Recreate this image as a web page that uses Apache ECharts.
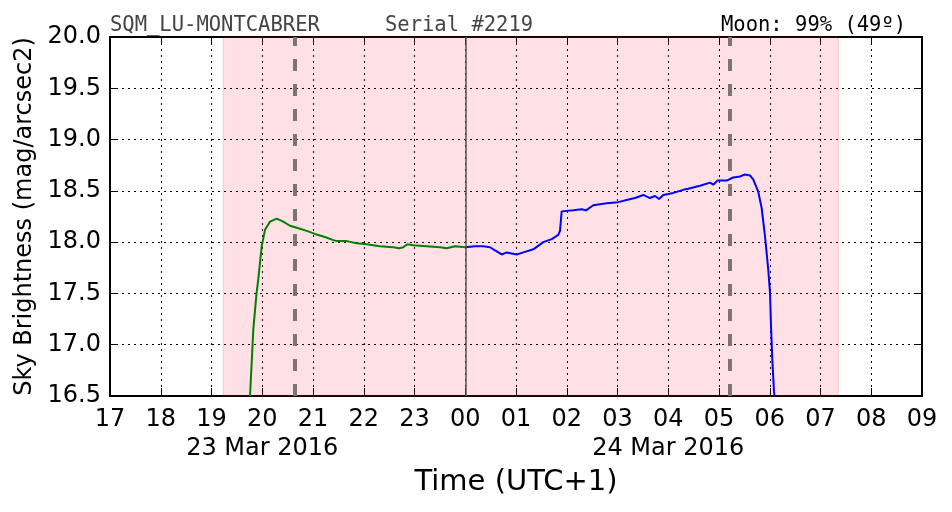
<!DOCTYPE html>
<html>
<head>
<meta charset="utf-8">
<script src="https://cdn.jsdelivr.net/npm/echarts@6/dist/echarts.min.js"></script>
<style>html,body{margin:0;padding:0;background:#fff}#c{width:952px;height:512px}</style>
</head>
<body>
<div id="c"></div>
<script>
// Time in hours since 00:00 of 23 Mar 2016 (values > 24 are on 24 Mar)
const greenTime = [19.759,19.824,19.887,19.922,19.989,20.054,20.153,20.285,20.415,20.547,20.744,20.876,21.039,21.236,21.400,21.467,21.664,21.861,22.058,22.320,22.582,22.700,22.779,22.858,22.976,23.239,23.502,23.634,23.798,24.000];
const greenMag  = [16.50,17.15,17.50,17.64,17.96,18.12,18.20,18.23,18.20,18.16,18.13,18.11,18.08,18.05,18.02,18.01,18.01,17.99,17.98,17.96,17.95,17.94,17.95,17.98,17.97,17.96,17.95,17.94,17.96,17.95];
const blueTime = [24.000,24.192,24.356,24.488,24.586,24.718,24.817,25.014,25.144,25.341,25.538,25.704,25.833,25.867,25.900,26.129,26.294,26.379,26.523,26.787,27.016,27.179,27.345,27.508,27.640,27.739,27.818,27.902,28.099,28.296,28.394,28.626,28.823,28.888,28.967,29.150,29.280,29.414,29.512,29.611,29.676,29.774,29.841,29.906,29.971,30.005,30.025,30.050,30.084,30.094];
const blueMag  = [17.95,17.96,17.96,17.95,17.92,17.88,17.90,17.88,17.90,17.93,18.00,18.03,18.07,18.11,18.30,18.31,18.32,18.31,18.36,18.38,18.39,18.41,18.43,18.46,18.43,18.45,18.42,18.46,18.48,18.51,18.52,18.55,18.58,18.56,18.60,18.60,18.63,18.64,18.66,18.65,18.61,18.49,18.33,18.06,17.73,17.51,17.18,16.86,16.54,16.50];
const nightStart = 19.233, nightEnd = 31.351;   // shaded night band
const moonLines = [20.645, 29.217];              // dashed vertical lines
const midnight = 24;
const dateLabels = {20: '23 Mar 2016', 28: '24 Mar 2016'};
const xMin = 17, xMax = 33, yMin = 16.5, yMax = 20.0;

const zip = (a, b) => a.map((v, i) => [v, b[i]]);
const font = 'DejaVu Sans';
const mono = 'DejaVu Sans Mono';

const chart = echarts.init(document.getElementById('c'));
const gridLine = {show: true, lineStyle: {color: '#000', width: 1, type: [2, 4]}};
const titleStyle = c => ({fontFamily: mono, fontSize: 20.5, fontWeight: 'normal', color: c});
chart.setOption({
  animation: false,
  title: [
    {text: 'SQM_LU-MONTCABRER', left: 110, top: 15, padding: 0, textStyle: titleStyle('#444')},
    {text: 'Serial #2219', left: 385, top: 15, padding: 0, textStyle: titleStyle('#444')},
    {text: 'Moon: 99% (49º)', left: 721, top: 15, padding: 0, textStyle: titleStyle('#000')}
  ],
  grid: {left: 110, right: 30, top: 37, bottom: 116, containLabel: false},
  xAxis: [{
    type: 'value', min: xMin, max: xMax, interval: 1,
    name: 'Time (UTC+1)', nameLocation: 'middle', nameGap: 71,
    nameTextStyle: {fontFamily: font, fontSize: 29, color: '#000'},
    axisLine: {show: true, lineStyle: {color: '#000', width: 2}},
    axisTick: {show: true, inside: true, length: 8, lineStyle: {color: '#000', width: 1}},
    axisLabel: {
      fontFamily: font, fontSize: 24, color: '#000', margin: 9, lineHeight: 29,
      formatter: v => {
        const h = String(((v % 24) + 24) % 24).padStart(2, '0');
        return dateLabels[v] ? h + '\n' + dateLabels[v] : h;
      }
    },
    splitLine: gridLine
  }, {
    type: 'value', position: 'top', min: xMin, max: xMax, interval: 1,
    axisLine: {show: true, lineStyle: {color: '#000', width: 2}},
    axisTick: {show: true, inside: true, length: 8, lineStyle: {color: '#000', width: 1}},
    axisLabel: {show: false}, splitLine: {show: false}
  }],
  yAxis: [{
    type: 'value', min: yMin, max: yMax, interval: 0.5,
    name: 'Sky Brightness (mag/arcsec2)', nameLocation: 'middle', nameGap: 73,
    nameTextStyle: {fontFamily: font, fontSize: 24, color: '#000'},
    axisLine: {show: true, lineStyle: {color: '#000', width: 2}},
    axisTick: {show: true, inside: true, length: 8, lineStyle: {color: '#000', width: 1}},
    axisLabel: {fontFamily: font, fontSize: 24, color: '#000', margin: 9, formatter: v => v.toFixed(1)},
    splitLine: gridLine
  }, {
    type: 'value', position: 'right', min: yMin, max: yMax, interval: 0.5,
    axisLine: {show: true, lineStyle: {color: '#000', width: 2}},
    axisTick: {show: true, inside: true, length: 8, lineStyle: {color: '#000', width: 1}},
    axisLabel: {show: false}, splitLine: {show: false}
  }],
  series: [
    {
      type: 'line', data: [], z: 1,
      markArea: {
        silent: true,
        itemStyle: {color: 'rgba(255,0,30,0.12)', borderColor: 'rgba(255,0,0,0.18)', borderWidth: 1},
        data: [[{xAxis: nightStart}, {xAxis: nightEnd}]]
      },
      markLine: {
        silent: true, symbol: 'none', label: {show: false},
        data: [
          {xAxis: midnight, lineStyle: {color: '#555', width: 1.5, type: 'solid'}},
          ...moonLines.map(m => ({xAxis: m, lineStyle: {color: '#7d7373', width: 4, type: [12, 13]}}))
        ]
      }
    },
    {type: 'line', data: zip(greenTime, greenMag), showSymbol: false, symbol: 'none', clip: true,
     lineStyle: {color: '#008000', width: 2}, z: 3},
    {type: 'line', data: zip(blueTime, blueMag), showSymbol: false, symbol: 'none', clip: true,
     lineStyle: {color: '#0000ff', width: 2}, z: 3}
  ]
});
</script>
</body>
</html>
